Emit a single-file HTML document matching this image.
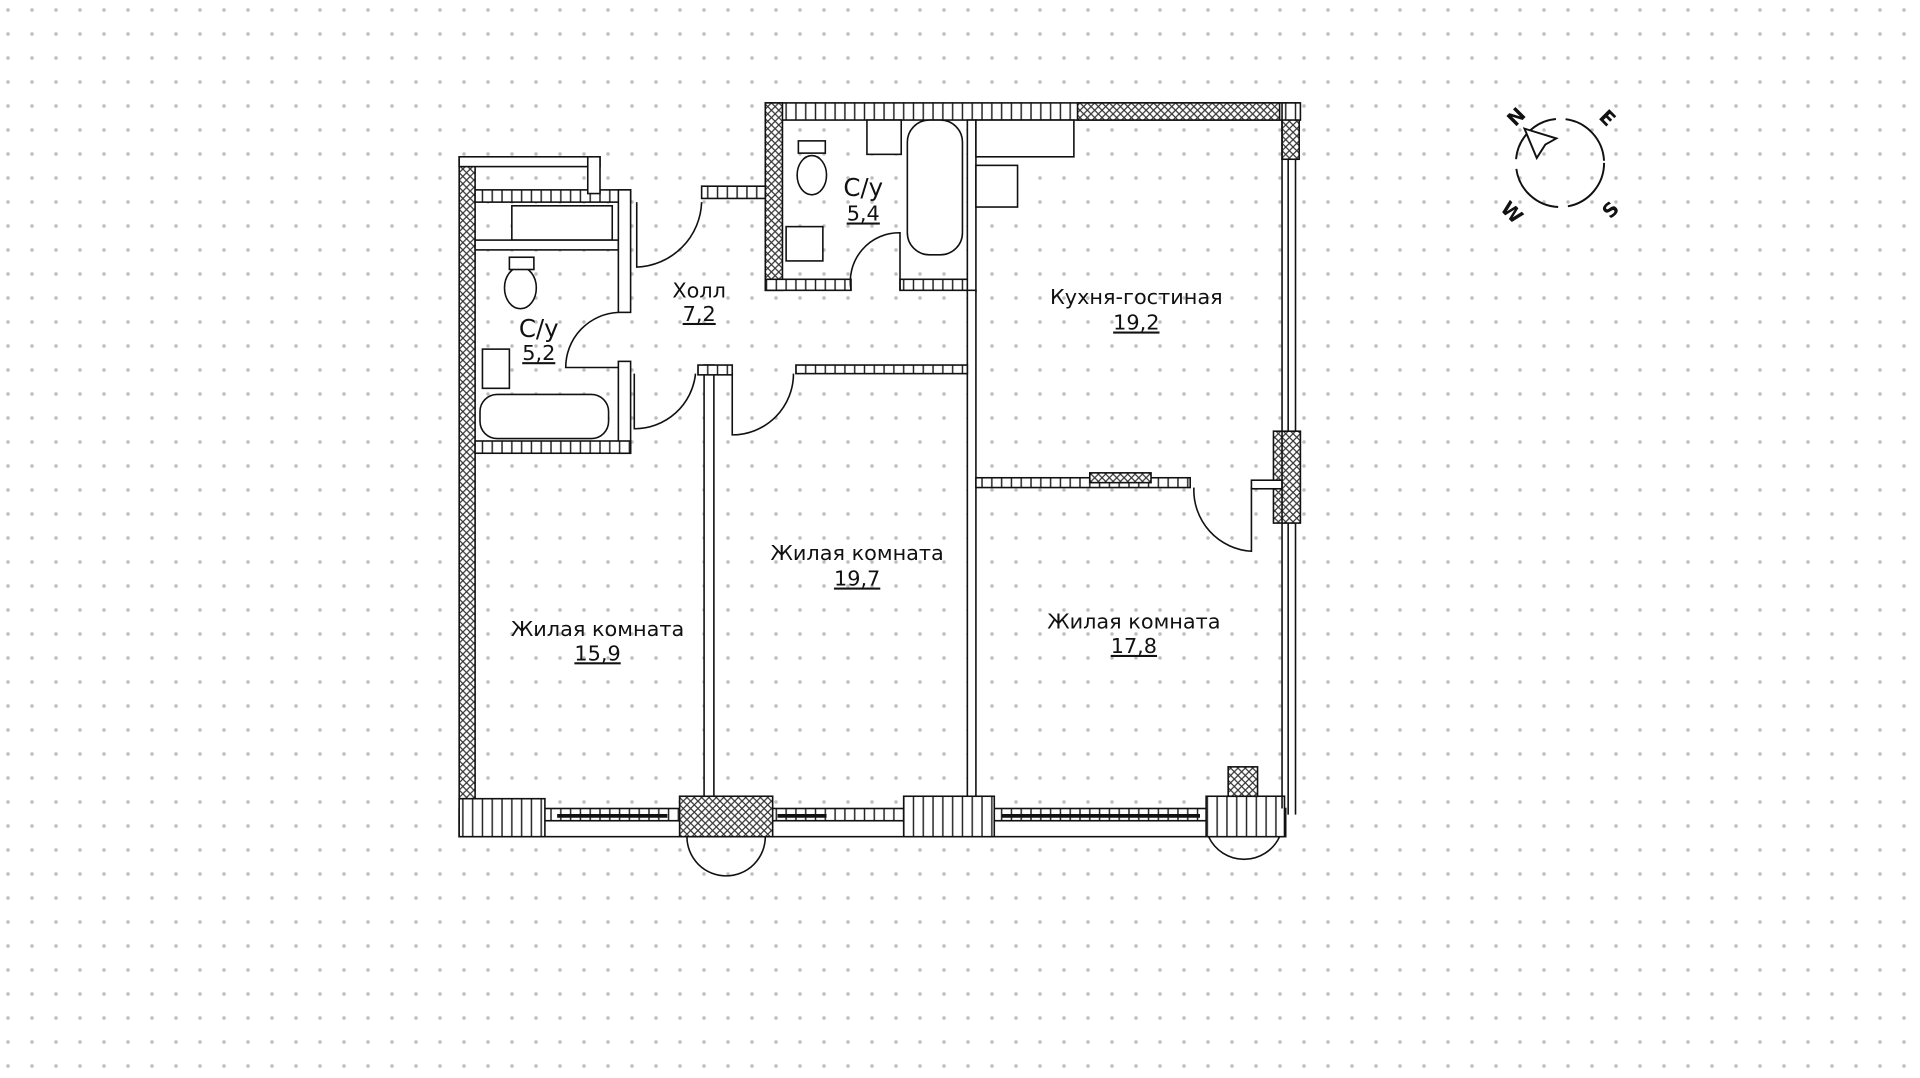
<!DOCTYPE html>
<html><head><meta charset="utf-8"><style>
html,body{margin:0;padding:0;background:#fff;}
#wrap{position:relative;width:1920px;height:1078px;overflow:hidden;
background-image:radial-gradient(#bdbdbd 1.7px, transparent 1.9px);
background-size:24px 24px;background-position:-4px -2px;}
svg{position:absolute;left:0;top:0;}
text{font-family:"DejaVu Sans","Liberation Sans",sans-serif;fill:#111;}
</style></head><body><div id="wrap">
<svg width="1920" height="1078" viewBox="0 0 1568 880" preserveAspectRatio="none">
<defs>
<pattern id="h" width="8" height="8" patternUnits="userSpaceOnUse"><rect width="8" height="8" fill="#fff"/><path d="M2 0V8" stroke="#222" stroke-width="1.2"/></pattern>
<pattern id="x" width="6" height="6" patternUnits="userSpaceOnUse"><rect width="6" height="6" fill="#fff"/><path d="M0 6L6 0M0 0L6 6" stroke="#333" stroke-width="1"/></pattern>
</defs>
<g stroke="#111" stroke-width="1.3" fill="#fff">
<rect x="375" y="128" width="13" height="555" fill="url(#x)"/>
<rect x="375" y="128" width="115" height="8" fill="#fff"/>
<rect x="375" y="660" width="675" height="10" fill="url(#h)"/>
<rect x="375" y="670" width="675" height="13"/>
<rect x="1047" y="84" width="14" height="46" fill="url(#x)"/>
<line x1="1052" y1="130" x2="1052" y2="665"/>
<line x1="1058" y1="130" x2="1058" y2="665"/>
<rect x="1040" y="352" width="22" height="75" fill="url(#x)"/>
<rect x="625" y="84" width="437" height="14" fill="url(#h)"/>
<rect x="880" y="84" width="165" height="14" fill="url(#x)"/>
<rect x="625" y="84" width="14" height="153" fill="url(#x)"/>
<rect x="388" y="155" width="127" height="10" fill="url(#h)"/>
<rect x="480" y="128" width="10" height="30"/>
<rect x="418" y="168" width="82" height="28"/>
<rect x="388" y="196" width="117" height="8"/>
<rect x="505" y="155" width="10" height="100"/>
<rect x="505" y="295" width="10" height="75"/>
<rect x="388" y="360" width="127" height="10" fill="url(#h)"/>
<rect x="573" y="152" width="52" height="10" fill="url(#h)"/>
<rect x="392" y="322" width="105" height="36" rx="14"/>
<rect x="394" y="285" width="22" height="32"/>
<ellipse cx="425" cy="235" rx="13" ry="17"/>
<rect x="416" y="210" width="20" height="10"/>
<rect x="625" y="228" width="70" height="9" fill="url(#h)"/>
<rect x="735" y="228" width="60" height="9" fill="url(#h)"/>
<rect x="790" y="98" width="7" height="140"/>
<rect x="741" y="98" width="45" height="110" rx="18"/>
<rect x="708" y="98" width="28" height="28"/>
<ellipse cx="663" cy="143" rx="12" ry="16"/>
<rect x="652" y="115" width="22" height="10"/>
<rect x="642" y="185" width="30" height="28"/>
<rect x="797" y="98" width="80" height="30"/>
<rect x="797" y="135" width="34" height="34"/>
<rect x="790" y="237" width="7" height="423"/>
<rect x="575" y="298" width="8" height="362"/>
<rect x="570" y="298" width="28" height="8" fill="url(#h)"/>
<rect x="650" y="298" width="140" height="7" fill="url(#h)"/>
<rect x="797" y="390" width="175" height="8" fill="url(#h)"/>
<rect x="890" y="386" width="50" height="8" fill="url(#x)"/>
<rect x="1022" y="392" width="25" height="7"/>
<rect x="375" y="652" width="70" height="31" fill="url(#h)"/>
<rect x="555" y="650" width="76" height="33" fill="url(#x)"/>
<rect x="738" y="650" width="74" height="33" fill="url(#h)"/>
<rect x="985" y="650" width="64" height="33" fill="url(#h)"/>
<rect x="1003" y="626" width="24" height="24" fill="url(#x)"/>
<line x1="455" y1="666" x2="545" y2="666" stroke-width="3"/>
<line x1="635" y1="666" x2="675" y2="666" stroke-width="3"/>
<line x1="818" y1="666" x2="980" y2="666" stroke-width="3"/>
</g>
<g stroke="#111" stroke-width="1.3" fill="none">
<path d="M561 683A32 32 0 0 0 625 683"/>
<path d="M987 683A32 32 0 0 0 1045 683"/>
<path d="M520 165V218A55 55 0 0 0 573 165"/>
<path d="M505 255A45 45 0 0 0 462 300H505"/>
<path d="M518 305V350A50 50 0 0 0 568 305"/>
<path d="M598 305V355A50 50 0 0 0 648 305"/>
<path d="M695 237A40 40 0 0 1 735 190V237"/>
<path d="M975 398A50 50 0 0 0 1022 450V398"/>
<line x1="1047" y1="84" x2="1047" y2="660"/>
</g>
<g font-size="17" text-anchor="middle">
<text x="571" y="243">Холл</text><text x="571" y="262" text-decoration="underline">7,2</text>
<text x="705" y="160" font-size="20">С/у</text><text x="705" y="180" text-decoration="underline">5,4</text>
<text x="440" y="275" font-size="20">С/у</text><text x="440" y="294" text-decoration="underline">5,2</text>
<text x="928" y="248">Кухня-гостиная</text><text x="928" y="269" text-decoration="underline">19,2</text>
<text x="700" y="457">Жилая комната</text><text x="700" y="478" text-decoration="underline">19,7</text>
<text x="488" y="519">Жилая комната</text><text x="488" y="539" text-decoration="underline">15,9</text>
<text x="926" y="513">Жилая комната</text><text x="926" y="533" text-decoration="underline">17,8</text>
</g>
<g stroke="#111" stroke-width="1.6" fill="none">
<circle cx="1274" cy="133" r="36" stroke-dasharray="50 8"/>
<path d="M1245 105L1271 113L1262 118L1255 129Z" fill="#fff"/>
</g>
<g font-size="16" font-weight="bold" text-anchor="middle">
<text x="1238" y="101" transform="rotate(-45 1238 95)">N</text>
<text x="1313" y="102" transform="rotate(45 1313 96)">E</text>
<text x="1235" y="179" transform="rotate(45 1235 173)">W</text>
<text x="1315" y="177" transform="rotate(-45 1315 171)">S</text>
</g>
</svg></div></body></html>
